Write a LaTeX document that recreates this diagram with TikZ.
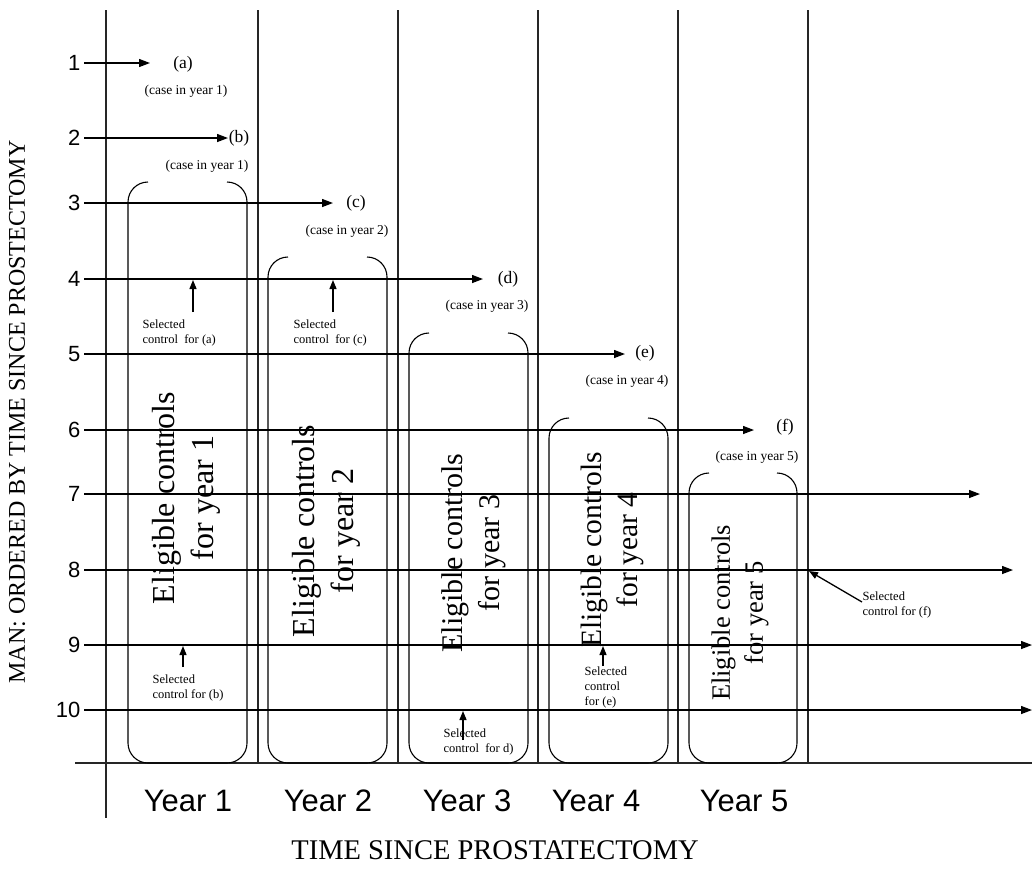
\documentclass[tikz,border=0pt]{standalone}
\usepackage{fontspec}
\setmainfont{Liberation Serif}
\newfontfamily\arialfont{Liberation Sans}
\usetikzlibrary{arrows.meta}

% rounded bracket around the eligible controls of one year: left, right, top
\newcommand\eligbox[3]{%
  \draw[boxline] ({#1+20},#3) -- (#1,#3) -- (#1,763) -- (#2,763) -- (#2,#3) -- ({#2-20},#3);}

\begin{document}
\begin{tikzpicture}[x=1pt,y=-1pt,
  line width=1.3pt,
  grid/.style={line width=1.2pt, draw=black!85},
  rowline/.style={line width=1.3pt, -{Triangle[length=11pt,width=8pt]}},
  ptr/.style={line width=1.3pt, -{Triangle[length=9pt,width=7pt]}},
  boxline/.style={line width=1.1pt, rounded corners=20pt},
  rowlab/.style={anchor=east, inner sep=0pt, font=\arialfont\fontsize{22}{26}\selectfont},
  yearlab/.style={anchor=base, inner sep=0pt, font=\arialfont\fontsize{31}{36}\selectfont},
  caselab/.style={inner sep=0pt, font=\fontsize{17.5}{20}\selectfont},
  casenote/.style={inner sep=0pt, font=\fontsize{13.5}{16}\selectfont},
  selnote/.style={anchor=north west, inner sep=0pt, align=left, font=\fontsize{12.5}{15}\selectfont},
  eligtext/.style={rotate=90, align=center, inner sep=0pt}
]
\useasboundingbox (0,0) rectangle (1032,879);

% axes and year separators
\draw[grid] (106,10) -- (106,818);
\foreach \gx in {258,398,538,678,808} \draw[grid] (\gx,10) -- (\gx,763);
\draw[grid] (75,763) -- (1032,763);

% eligible-control brackets
\eligbox{128}{247}{182}
\eligbox{268}{387}{257}
\eligbox{409}{528}{333}
\eligbox{549}{668}{418}
\eligbox{689}{797}{473}

% bracket captions
\node[eligtext, font=\fontsize{32}{39}\selectfont] (elig1) at (186,498) {Eligible controls\\for year 1};
\node[eligtext, font=\fontsize{32}{39}\selectfont] (elig2) at (326,531) {Eligible controls\\for year 2};
\node[eligtext, font=\fontsize{30}{37}\selectfont] (elig3) at (474,553) {Eligible controls\\for year 3};
\node[eligtext, font=\fontsize{29.5}{36}\selectfont] (elig4) at (612,550) {Eligible controls\\for year 4};
\node[eligtext, font=\fontsize{26.5}{33}\selectfont] (elig5) at (740,613) {Eligible controls\\for year 5};

% row labels and follow-up lines
\foreach \i/\ry/\ex in {1/63/150, 2/138/228, 3/203/333, 4/279/483, 5/354/625,
                        6/430/754, 7/494/980, 8/570/1013, 9/645/1032, 10/710/1032} {
  \node[rowlab] (r\i) at (81,\ry) {\i};
  \coordinate (e\i) at (\ex,\ry);
  \draw[rowline] (r\i.east) ++(3,0) -- (e\i);
}

% cases
\node[caselab] (ca) at (183,64) {(a)};
\node[casenote] (na) at (186,91) {(case in year 1)};
\node[caselab] (cb) at (239,138) {(b)};
\node[casenote] (nb) at (207,166) {(case in year 1)};
\node[caselab] (cc) at (356,203) {(c)};
\node[casenote] (nc) at (347,231) {(case in year 2)};
\node[caselab] (cd) at (508,279) {(d)};
\node[casenote] (nd) at (487,306) {(case in year 3)};
\node[caselab] (ce) at (645,353) {(e)};
\node[casenote] (ne) at (627,381) {(case in year 4)};
\node[caselab] (cf) at (785,427) {(f)};
\node[casenote] (nf) at (757,457) {(case in year 5)};

% selected controls
\node[selnote] (sa) at (142,319) {Selected\\ control\ \ for (a)};
\coordinate (sa-from) at (193,312); \coordinate (sa-to) at (193,280);
\draw[ptr] (sa-from) -- (sa-to);

\node[selnote] (sc) at (293,319) {Selected\\control\ \ for (c)};
\coordinate (sc-from) at (333,312); \coordinate (sc-to) at (333,280);
\draw[ptr] (sc-from) -- (sc-to);

\node[selnote] (sb) at (152,674) {Selected\\control\ for (b)};
\coordinate (sb-from) at (183,667); \coordinate (sb-to) at (183,646);
\draw[ptr] (sb-from) -- (sb-to);

\node[selnote] (sd) at (443,728) {Selected\\control\ \ for d)};
\coordinate (sd-from) at (463,740); \coordinate (sd-to) at (463,711);
\draw[ptr] (sd-from) -- (sd-to);

\node[selnote] (se) at (584,666) {Selected\\control\\for (e)};
\coordinate (se-from) at (603,666); \coordinate (se-to) at (603,646);
\draw[ptr] (se-from) -- (se-to);

\node[selnote] (sf) at (862,591) {Selected\\control\ for (f)};
\coordinate (sf-from) at (862,602); \coordinate (sf-to) at (809,571);
\draw[ptr] (sf-from) -- (sf-to);

% year labels under the axis
\node[yearlab] (y1) at (188,811) {Year 1};
\node[yearlab] (y2) at (328,811) {Year 2};
\node[yearlab] (y3) at (467,811) {Year 3};
\node[yearlab] (y4) at (596,811) {Year 4};
\node[yearlab] (y5) at (744,811) {Year 5};

% axis titles
\node[anchor=base, inner sep=0pt, font=\fontsize{28.5}{32}\selectfont] (xtitle) at (495,859) {TIME SINCE PROSTATECTOMY};
\node[rotate=90, inner sep=0pt, font=\fontsize{24}{28}\selectfont] (ytitle) at (17,412) {MAN: ORDERED BY TIME SINCE PROSTECTOMY};
\end{tikzpicture}
\end{document}
